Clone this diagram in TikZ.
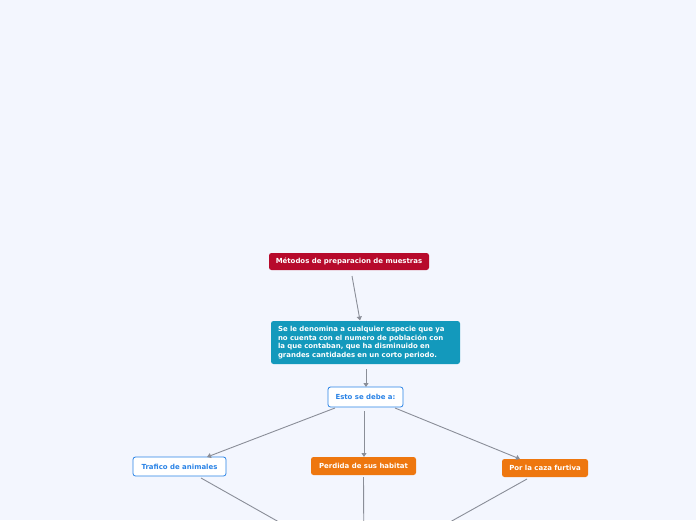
\documentclass[tikz,border=0pt]{standalone}
\usepackage{fontspec}
\setmainfont{DejaVu Sans}
\usetikzlibrary{arrows.meta}
\definecolor{bg}{HTML}{F3F6FE}
\definecolor{redbox}{HTML}{B70A2C}
\definecolor{tealbox}{HTML}{1399BC}
\definecolor{bluebd}{HTML}{2A83E6}
\definecolor{orangebox}{HTML}{EE770F}
\definecolor{conn}{HTML}{8A8E98}
\tikzset{
  base/.style={rounded corners=2.5pt, font=\fontsize{6.95}{8.6}\selectfont\bfseries, inner sep=0pt, anchor=center},
  filledbox/.style={base, text=white, draw=none},
  outlinebox/.style={base, fill=white, draw=bluebd, line width=0.8pt, text=bluebd},
  conline/.style={draw=conn, line width=0.9pt},
  arr/.style={conline, -{Triangle[length=4pt,width=5pt]}},
}
\begin{document}
\begin{tikzpicture}[x=1pt,y=-1pt]
\useasboundingbox (0,0) rectangle (696,520);
\fill[bg] (0,0) rectangle (696,520);
\begin{scope}
\clip (0,0) rectangle (696,520);
\node[filledbox, fill=redbox, minimum width=160pt, minimum height=17pt] (m) at (349,261.5) {Métodos de preparacion de muestras};
\node[filledbox, fill=tealbox, minimum width=189pt, minimum height=43pt, align=left, text width=175pt] (s) at (365.5,342.5) {Se le denomina a cualquier especie que ya\\no cuenta con el numero de población con\\la que contaban, que ha disminuido en\\grandes cantidades en un corto periodo.};
\node[outlinebox, minimum width=75pt, minimum height=20pt] (e) at (365.5,397) {Esto se debe a:};
\node[outlinebox, minimum width=93pt, minimum height=19pt] (t) at (179.5,466.5) {Trafico de animales};
\node[filledbox, fill=orangebox, minimum width=105pt, minimum height=18pt] (p) at (363.5,466) {Perdida de sus habitat};
\node[filledbox, fill=orangebox, minimum width=86pt, minimum height=18pt] (c) at (545,468) {Por la caza furtiva};
\coordinate (j) at (364,570);
\coordinate (m1) at (352,276);
\coordinate (s1) at (360,320.5);
\coordinate (s2) at (366,369);
\coordinate (e0) at (366,387);
\coordinate (e1) at (335,408);
\coordinate (e2) at (364,411);
\coordinate (e3) at (395,408);
\coordinate (t1) at (207,457);
\coordinate (p1) at (364,457);
\coordinate (c1) at (520,459);
\draw[arr] (m1) -- (s1);
\draw[arr] (s2) -- (e0);
\draw[arr] (e1) -- (t1);
\draw[arr] (e2) -- (p1);
\draw[arr] (e3) -- (c1);
\coordinate (t2) at (201,478);
\coordinate (p2) at (363.5,477);
\coordinate (c2) at (527,479);
\draw[conline] (t2) -- (j);
\draw[conline] (p2) -- (j);
\draw[conline] (c2) -- (j);
\end{scope}
\end{tikzpicture}
\end{document}
